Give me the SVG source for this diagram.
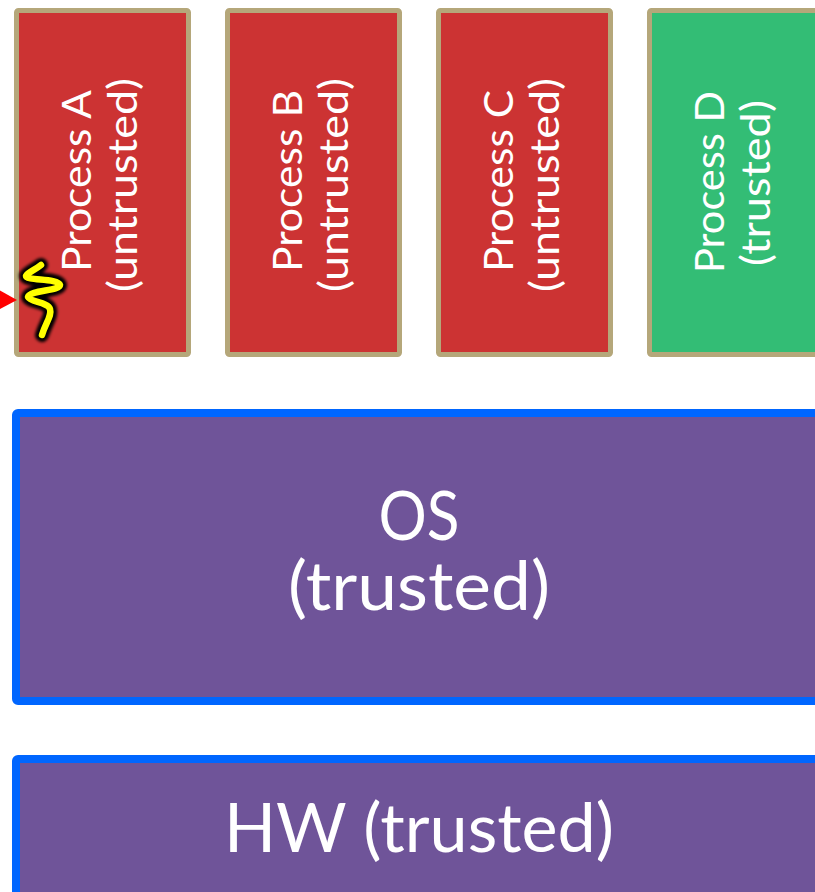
<svg xmlns="http://www.w3.org/2000/svg" width="815" height="892" viewBox="0 0 815 892">
<defs><filter id="glow" x="-40%" y="-40%" width="180%" height="180%"><feGaussianBlur stdDeviation="1.500"/></filter>
<path id="bolt" d="M41 265C35 270 28 272 26 276C26 281 58 278 60 285C60 291 30 290 28 297C30 302 48 302 50 309C52 316 46 322 42 335" fill="none" stroke-linecap="round" stroke-linejoin="round"/></defs>
<style>
.p{stroke:#b5a77a;stroke-width:5}
.red{fill:#cc3333}
.green{fill:#33bd75}
.big{fill:#6f5499;stroke:#0066ff;stroke-width:8}
text{font-family:Lato,"Open Sans",sans-serif;fill:#fff;text-anchor:middle}
.s{font-size:41px}
.l{font-size:68px}
</style>
<g id="process-a"><rect class="p red" x="16.500" y="10.500" width="172" height="344" rx="2"/>
<text class="s" transform="translate(91 181) rotate(-90)" textLength="182" lengthAdjust="spacingAndGlyphs">Process A</text>
<text class="s" transform="translate(137 185) rotate(-90)" textLength="214" lengthAdjust="spacingAndGlyphs">(untrusted)</text>
<use href="#bolt" stroke="#000" stroke-width="14" filter="url(#glow)"/>
<use href="#bolt" stroke="#ffff00" stroke-width="6.500"/></g>
<g id="process-b"><rect class="p red" x="227.500" y="10.500" width="172" height="344" rx="2"/>
<text class="s" transform="translate(302 181) rotate(-90)" textLength="182" lengthAdjust="spacingAndGlyphs">Process B</text>
<text class="s" transform="translate(348 185) rotate(-90)" textLength="214" lengthAdjust="spacingAndGlyphs">(untrusted)</text></g>
<g id="process-c"><rect class="p red" x="438.500" y="10.500" width="172" height="344" rx="2"/>
<text class="s" transform="translate(513 181) rotate(-90)" textLength="182" lengthAdjust="spacingAndGlyphs">Process C</text>
<text class="s" transform="translate(559 185) rotate(-90)" textLength="214" lengthAdjust="spacingAndGlyphs">(untrusted)</text></g>
<g id="process-d"><rect class="p green" x="649.500" y="10.500" width="172" height="344" rx="2"/>
<text class="s" transform="translate(724 182) rotate(-90)" textLength="182" lengthAdjust="spacingAndGlyphs">Process D</text>
<text class="s" transform="translate(770 183) rotate(-90)" textLength="166" lengthAdjust="spacingAndGlyphs">(trusted)</text></g>
<g id="os"><rect class="big" x="16" y="413" width="810" height="288" rx="2"/>
<text class="l"><tspan x="419" y="540" textLength="81" lengthAdjust="spacingAndGlyphs">OS</tspan><tspan x="419" y="610" textLength="262" lengthAdjust="spacingAndGlyphs">(trusted)</tspan></text></g>
<g id="hw"><rect class="big" x="16" y="759" width="810" height="150" rx="2"/>
<text class="l" x="419" y="852" textLength="390" lengthAdjust="spacingAndGlyphs">HW (trusted)</text></g>
<g id="connectors"><path d="M0 290.500L17 300L0 309Z" fill="#ff0000"/></g>
</svg>
